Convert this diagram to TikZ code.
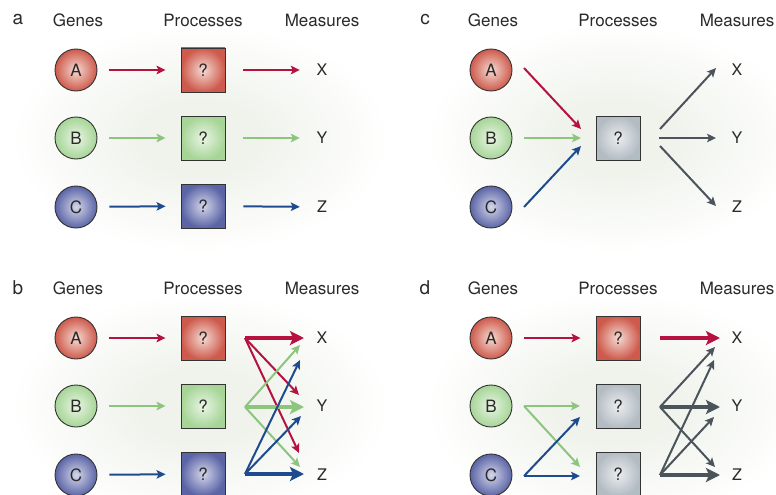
\documentclass[tikz,border=0pt]{standalone}
\usepackage{fontspec}
\setmainfont{TeX Gyre Heros}
\usetikzlibrary{arrows.meta}
\definecolor{cred}{HTML}{B5123F}
\definecolor{cgreen}{HTML}{8DC47E}
\definecolor{cblue}{HTML}{1F4B8E}
\definecolor{cgray}{HTML}{4B535B}
\definecolor{glowc}{HTML}{F0F3EC}
\definecolor{redout}{HTML}{CD5A4C}
\definecolor{redin}{HTML}{F6DAD2}
\definecolor{greenout}{HTML}{A6D597}
\definecolor{greenin}{HTML}{EAF5E4}
\definecolor{blueout}{HTML}{5B65A6}
\definecolor{bluein}{HTML}{D4D6EA}
\definecolor{grayout}{HTML}{B4BCC3}
\definecolor{grayin}{HTML}{EAEDEF}
\definecolor{txt}{HTML}{2A2A2A}
\definecolor{edge}{HTML}{333333}
\pgfdeclareradialshading{glow}{\pgfpointorigin}{color(0bp)=(glowc); color(8bp)=(glowc); color(25bp)=(white); color(50bp)=(white)}
\tikzset{
  head/.style={font=\fontsize{17}{17}\selectfont, text=txt, inner sep=0pt},
  lbl/.style={font=\fontsize{19}{19}\selectfont, text=txt, inner sep=0pt},
  meas/.style={font=\fontsize{16}{16}\selectfont, text=txt, inner sep=0pt, minimum width=12pt},
  gene/.style={circle, draw=edge, line width=0.9pt, minimum size=42pt, inner sep=0pt, text=txt, font=\fontsize{17}{17}\selectfont},
  proc/.style={rectangle, draw=edge, line width=0.9pt, minimum size=44pt, inner sep=0pt, text=txt, font=\fontsize{17}{17}\selectfont},
  redfill/.style={inner color=redin, outer color=redout},
  greenfill/.style={inner color=greenin, outer color=greenout},
  bluefill/.style={inner color=bluein, outer color=blueout},
  grayfill/.style={inner color=grayin, outer color=grayout},
  arr/.style={line width=2pt, -{Stealth[length=9pt,width=8.5pt,inset=2pt]}},
  tarr/.style={line width=4.8pt, -{Stealth[length=14pt,width=14pt,inset=3pt]}},
  gp/.style={shorten <=12pt, shorten >=15pt},
  pm/.style={shorten <=18pt, shorten >=16pt},
}
\newcommand\genesheads[3]{%
  \shade[shading=glow] (200,138) ellipse [x radius=190pt, y radius=115pt];
  \node[lbl] (#1lab) at (#3,20) {#2};
  \node[head] (#1hg) at (78,20) {Genes};
  \node[head] (#1hp) at (203,20) {Processes};
  \node[head] (#1hm) at (322,20) {Measures};
  \node[gene,redfill] (#1A) at (76,70) {A};
  \node[gene,greenfill] (#1B) at (76,138) {B};
  \node[gene,bluefill] (#1C) at (76,207) {C};
  \node[meas] (#1X) at (322,70) {X};
  \node[meas] (#1Y) at (322,138) {Y};
  \node[meas] (#1Z) at (322,207) {Z};
}
\begin{document}
\begin{tikzpicture}[x=1pt,y=-1pt]
\useasboundingbox[fill=white] (0,0) rectangle (776,495);

% ---------- panel a ----------
\begin{scope}
\genesheads{a}{a}{18}
\node[proc,redfill] (aP1) at (203,70) {?};
\node[proc,greenfill] (aP2) at (203,138) {?};
\node[proc,bluefill] (aP3) at (203,206) {?};
\draw[arr,cred,gp] (aA) -- (aP1);
\draw[arr,cgreen,gp] (aB) -- (aP2);
\draw[arr,cblue,gp] (aC) -- (aP3);
\draw[arr,cred,pm] (aP1) -- (aX);
\draw[arr,cgreen,pm] (aP2) -- (aY);
\draw[arr,cblue,pm] (aP3) -- (aZ);
\end{scope}

% ---------- panel c ----------
\begin{scope}[shift={(415,0)}]
\genesheads{c}{c}{10}
\node[proc,grayfill] (cP) at (203,138) {?};
\coordinate (cAs) at (109,68);  \coordinate (cAe) at (166,129);
\coordinate (cBs) at (109,138); \coordinate (cBe) at (166,138);
\coordinate (cCs) at (109,207); \coordinate (cCe) at (166,146);
\coordinate (cO1) at (245,129); \coordinate (cXe) at (301,68);
\coordinate (cO2) at (244,138); \coordinate (cYe) at (301,138);
\coordinate (cO3) at (245,146); \coordinate (cZe) at (301,206);
\draw[arr,cred] (cAs) -- (cAe);
\draw[arr,cgreen] (cBs) -- (cBe);
\draw[arr,cblue] (cCs) -- (cCe);
\draw[arr,cgray] (cO1) -- (cXe);
\draw[arr,cgray] (cO2) -- (cYe);
\draw[arr,cgray] (cO3) -- (cZe);
\end{scope}

% ---------- panel b ----------
\begin{scope}[shift={(0,268)}]
\genesheads{b}{b}{18}
\node[proc,redfill] (bP1) at (203,70) {?};
\node[proc,greenfill] (bP2) at (203,138) {?};
\node[proc,bluefill] (bP3) at (203,206) {?};
\draw[arr,cred,gp] (bA) -- (bP1);
\draw[arr,cgreen,gp] (bB) -- (bP2);
\draw[arr,cblue,gp] (bC) -- (bP3);
\coordinate (bS1) at (245,70);
\coordinate (bS2) at (245,139);
\coordinate (bS3) at (245,206);
\coordinate (bXt) at (304,70);
\coordinate (bYt) at (304,139);
\coordinate (bZt) at (304,206);
\coordinate (bXg) at (300,77);
\coordinate (bXb) at (300,92);
\coordinate (bYr) at (299,127);
\coordinate (bYb) at (301,148);
\coordinate (bZr) at (299,185);
\coordinate (bZg) at (300,199);
\draw[arr,cred] (bS1) -- (bYr);
\draw[arr,cred] (bS1) -- (bZr);
\draw[tarr,cred] (bS1) -- (bXt);
\draw[arr,cgreen] (bS2) -- (bXg);
\draw[arr,cgreen] (bS2) -- (bZg);
\draw[tarr,cgreen] (bS2) -- (bYt);
\draw[arr,cblue] (bS3) -- (bXb);
\draw[arr,cblue] (bS3) -- (bYb);
\draw[tarr,cblue] (bS3) -- (bZt);
\end{scope}

% ---------- panel d ----------
\begin{scope}[shift={(415,268)}]
\genesheads{d}{d}{10}
\node[proc,redfill] (dP1) at (203,70) {?};
\node[proc,grayfill] (dP2) at (203,138) {?};
\node[proc,grayfill] (dP3) at (203,206) {?};
\draw[arr,cred,gp] (dA) -- (dP1);
\coordinate (dBs) at (109,138);
\coordinate (dCs) at (109,208);
\coordinate (dB2) at (165,138);
\coordinate (dB3) at (165,199);
\coordinate (dC2) at (165,149);
\coordinate (dC3) at (165,208);
\draw[arr,cgreen] (dBs) -- (dB2);
\draw[arr,cgreen] (dBs) -- (dB3);
\draw[arr,cblue] (dCs) -- (dC2);
\draw[arr,cblue] (dCs) -- (dC3);
\coordinate (dS1) at (245,70);
\coordinate (dS2) at (245,139);
\coordinate (dS3) at (245,207);
\coordinate (dXt) at (305,70);
\coordinate (dYt) at (305,139);
\coordinate (dZt) at (305,207);
\coordinate (dX2) at (300,79);
\coordinate (dZ2) at (300,199);
\coordinate (dX3) at (299,92);
\coordinate (dY3) at (299,149);
\draw[tarr,cred] (dS1) -- (dXt);
\draw[arr,cgray] (dS2) -- (dX2);
\draw[arr,cgray] (dS2) -- (dZ2);
\draw[tarr,cgray] (dS2) -- (dYt);
\draw[arr,cgray] (dS3) -- (dX3);
\draw[arr,cgray] (dS3) -- (dY3);
\draw[tarr,cgray] (dS3) -- (dZt);
\end{scope}
\end{tikzpicture}
\end{document}
